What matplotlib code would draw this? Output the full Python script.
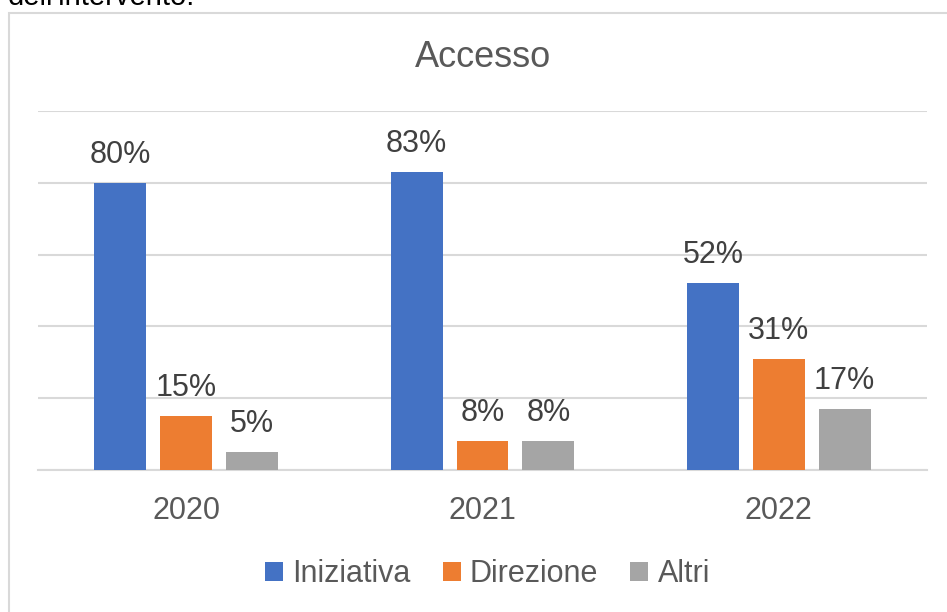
import numpy as np
import matplotlib
matplotlib.use("Agg")
import matplotlib.pyplot as plt
from matplotlib.patches import Rectangle, Patch

plt.rcParams['font.family'] = ['Liberation Sans', 'DejaVu Sans']

# data
years = ["2020", "2021", "2022"]
series = ["Iniziativa", "Direzione", "Altri"]
iniziativa = [0.80, 0.83, 0.52]
direzione = [0.15, 0.08, 0.31]
altri = [0.05, 0.08, 0.17]
values = [iniziativa, direzione, altri]
colors = ["#4472C4", "#ED7D31", "#A5A5A5"]

W, H = 947, 612
fig = plt.figure(figsize=(W / 100, H / 100), dpi=100)

# chart frame (only left and top edges visible)
fig.patches.append(Rectangle((8.5 / W, -0.5), 2.0, 0.5 + 1 - 12.5 / H,
                             transform=fig.transFigure, fill=False,
                             edgecolor="#d9d9d9", linewidth=1.5))
# text above the chart, cut off by the image edge
fig.text(8 / W, 1 - 5 / H, "dell'intervento.", fontsize=21, color="black",
         ha="left", va="baseline")

ax = fig.add_axes([38 / W, 1 - 470 / H, (927 - 38) / W, (470 - 111) / H])
x = np.arange(len(years))
bw = 0.175
step = 0.222
for i, (vals, c) in enumerate(zip(values, colors)):
    pos = x + (i - 1) * step
    bars = ax.bar(pos, vals, width=bw, color=c, zorder=3)
    for p, v in zip(pos, vals):
        ax.annotate(f"{round(v * 100)}%", (p, v), xytext=(0, 14.4),
                    textcoords="offset points", ha="center", va="baseline",
                    fontsize=22, color="#404040")

ax.set_xlim(-0.5, 2.5)
ax.set_ylim(0, 1.0)
ax.set_yticks(np.arange(0, 1.01, 0.2))
ax.yaxis.grid(True, color="#d9d9d9", linewidth=1.5, zorder=0)
ax.tick_params(axis="y", left=False, labelleft=False)
ax.set_xticks(x)
ax.set_xticklabels(years)
ax.tick_params(axis="x", length=0, pad=19, labelsize=22, labelcolor="#595959")
for s in ["top", "right", "left"]:
    ax.spines[s].set_visible(False)
ax.spines["bottom"].set_color("#d9d9d9")
ax.spines["bottom"].set_linewidth(1.5)

fig.text(483.5 / W, 1 - 67 / H, "Accesso", fontsize=26, color="#595959",
         ha="center", va="baseline")

handles = [Patch(facecolor=c, edgecolor="none") for c in colors]
fig.legend(handles, series, loc="center", bbox_to_anchor=(487.5 / W, 1 - 574 / H),
           ncol=3, frameon=False, fontsize=22, labelcolor="#595959",
           handlelength=0.59, handleheight=0.59, handletextpad=0.3,
           columnspacing=1.05, borderpad=0, borderaxespad=0)

fig.savefig("out.png", dpi=100)
